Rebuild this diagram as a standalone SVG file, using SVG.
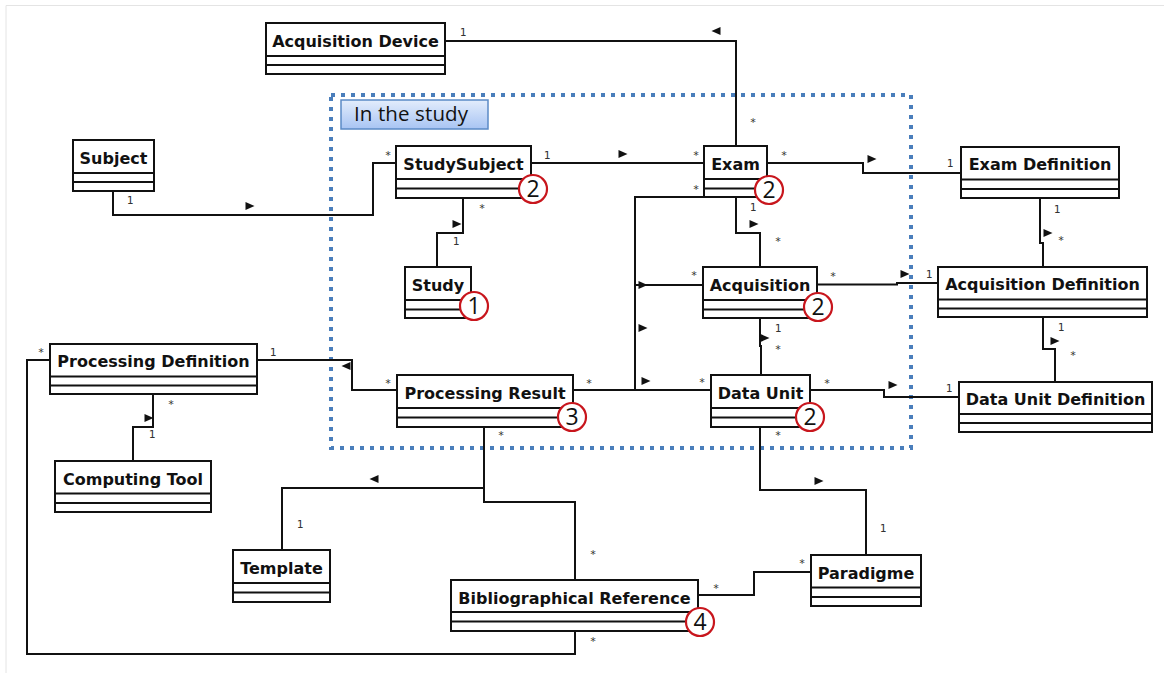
<svg xmlns="http://www.w3.org/2000/svg" width="1164" height="673" viewBox="0 0 1164 673">
<style>
.box{fill:#fff;stroke:#111;stroke-width:2}
.sep{stroke:#111;stroke-width:2}
.nm{font-family:"DejaVu Sans",Verdana,sans-serif;font-weight:bold;font-size:16px;fill:#111;text-anchor:middle}
.c{fill:none;stroke:#111;stroke-width:2}
.lb{font-family:"DejaVu Sans Mono","Liberation Mono",monospace;font-size:11px;fill:#333;text-anchor:middle}
.bd{fill:#fff;stroke:#c8161d;stroke-width:2.2}
.bn{font-family:"Open Sans","Noto Sans",sans-serif;font-size:23px;fill:#111;text-anchor:middle}
</style>
<defs>
<path id="ar" d="M-4.5,-4 L4.5,0 L-4.5,4 Z" fill="#111"/>
<linearGradient id="lg" x1="0" y1="0" x2="0" y2="1">
<stop offset="0" stop-color="#e3edfc"/>
<stop offset="1" stop-color="#a8c4f3"/>
</linearGradient>
</defs>
<rect width="1164" height="673" fill="#fff"/>
<path d="M6,673 V5.5 H1164" fill="none" stroke="#e4e4e4" stroke-width="1"/>

<g id="study-frame">
<rect x="331" y="95" width="580" height="353" fill="none" stroke="#4a7ebb" stroke-width="4" stroke-dasharray="4 6"/>
<rect x="341" y="100" width="147" height="29" fill="url(#lg)" stroke="#5b8ac6" stroke-width="1.5"/>
<text x="354" y="121" font-family="'Open Sans','Noto Sans',sans-serif" font-size="20.5" fill="#111" textLength="114">In the study</text>
</g>

<g id="connectors">
<path class="c" d="M445,41 H736 V146"/>
<path class="c" d="M113,192 V215 H373 V163 H396"/>
<path class="c" d="M531,163 H704"/>
<path class="c" d="M437,267 V233 H463 V198"/>
<path class="c" d="M767,163 H863 V173 H961"/>
<path class="c" d="M736,197 V233 H760 V267"/>
<path class="c" d="M704,197 H635 V390"/>
<path class="c" d="M635,285 H703"/>
<path class="c" d="M573,390 H711"/>
<path class="c" d="M817,284.5 H897 V283 H938"/>
<path class="c" d="M760,318 V346 H761 V375"/>
<path class="c" d="M810,390 H884 V397 H959"/>
<path class="c" d="M1040,198 V243 H1043 V267"/>
<path class="c" d="M1043,317 V349 H1055 V382"/>
<path class="c" d="M153,394 V427 H133 V461"/>
<path class="c" d="M50,360 H27 V654 H575 V631"/>
<path class="c" d="M257,360 H352 V390 H397"/>
<path class="c" d="M484,427 V502 H575 V580"/>
<path class="c" d="M484,488 H282 V550"/>
<path class="c" d="M760,427 V490 H866 V555"/>
<path class="c" d="M698,595 H754 V572 H811"/>

<use href="#ar" transform="translate(716,31) rotate(180)"/>
<use href="#ar" transform="translate(250,206)"/>
<use href="#ar" transform="translate(623,154)"/>
<use href="#ar" transform="translate(457,224)"/>
<use href="#ar" transform="translate(872,159)"/>
<use href="#ar" transform="translate(754,224)"/>
<use href="#ar" transform="translate(643,285)"/>
<use href="#ar" transform="translate(643,328)"/>
<use href="#ar" transform="translate(646,381)"/>
<use href="#ar" transform="translate(905,274)"/>
<use href="#ar" transform="translate(765,338)"/>
<use href="#ar" transform="translate(893,385)"/>
<use href="#ar" transform="translate(1048,233)"/>
<use href="#ar" transform="translate(1055,341)"/>
<use href="#ar" transform="translate(149,418)"/>
<use href="#ar" transform="translate(346,366) rotate(180)"/>
<use href="#ar" transform="translate(374,479) rotate(180)"/>
<use href="#ar" transform="translate(819,481)"/>

<text class="lb" x="463" y="36">1</text>
<text class="lb" x="753" y="126">*</text>
<text class="lb" x="130" y="204">1</text>
<text class="lb" x="388" y="159">*</text>
<text class="lb" x="547" y="159">1</text>
<text class="lb" x="696" y="159">*</text>
<text class="lb" x="456" y="245">1</text>
<text class="lb" x="482" y="212">*</text>
<text class="lb" x="784" y="159">*</text>
<text class="lb" x="950" y="167">1</text>
<text class="lb" x="753" y="211">1</text>
<text class="lb" x="778" y="245">*</text>
<text class="lb" x="696" y="193">*</text>
<text class="lb" x="694" y="279">*</text>
<text class="lb" x="702" y="386">*</text>
<text class="lb" x="589" y="387">*</text>
<text class="lb" x="833" y="280">*</text>
<text class="lb" x="929" y="278">1</text>
<text class="lb" x="778" y="332">1</text>
<text class="lb" x="778" y="353">*</text>
<text class="lb" x="827" y="387">*</text>
<text class="lb" x="949" y="392">1</text>
<text class="lb" x="1057" y="213">1</text>
<text class="lb" x="1061" y="244">*</text>
<text class="lb" x="1061" y="331">1</text>
<text class="lb" x="1073" y="359">*</text>
<text class="lb" x="171" y="408">*</text>
<text class="lb" x="152" y="438">1</text>
<text class="lb" x="41" y="356">*</text>
<text class="lb" x="593" y="645">*</text>
<text class="lb" x="273" y="356">1</text>
<text class="lb" x="388" y="387">*</text>
<text class="lb" x="501" y="439">*</text>
<text class="lb" x="300" y="528">1</text>
<text class="lb" x="593" y="558">*</text>
<text class="lb" x="778" y="439">*</text>
<text class="lb" x="883" y="532">1</text>
<text class="lb" x="716" y="592">*</text>
<text class="lb" x="802" y="567">*</text>
</g>

<g id="acquisition-device">
<rect class="box" x="266" y="23" width="179" height="51"/>
<path class="sep" d="M266,56 H445 M266,65 H445"/>
<text class="nm" x="355.5" y="46.5">Acquisition Device</text>
</g>
<g id="subject">
<rect class="box" x="73" y="140" width="81" height="51"/>
<path class="sep" d="M73,173 H154 M73,182 H154"/>
<text class="nm" x="113.5" y="163.5">Subject</text>
</g>
<g id="study-subject">
<rect class="box" x="396" y="146" width="135" height="52"/>
<path class="sep" d="M396,179 H531 M396,188.5 H531"/>
<text class="nm" x="463.5" y="169.5">StudySubject</text>
<circle class="bd" cx="533" cy="189" r="14"/>
<text class="bn" x="533" y="197">2</text>
</g>
<g id="study">
<rect class="box" x="405" y="267" width="66" height="51"/>
<path class="sep" d="M405,300 H471 M405,309.5 H471"/>
<text class="nm" x="438" y="290.5">Study</text>
<circle class="bd" cx="474" cy="306" r="14"/>
<text class="bn" x="474" y="314">1</text>
</g>
<g id="exam">
<rect class="box" x="704" y="146" width="63" height="51"/>
<path class="sep" d="M704,179 H767 M704,188.5 H767"/>
<text class="nm" x="735.5" y="169.5">Exam</text>
<circle class="bd" cx="769" cy="190" r="14"/>
<text class="bn" x="769" y="198">2</text>
</g>
<g id="acquisition">
<rect class="box" x="703" y="267" width="114" height="51"/>
<path class="sep" d="M703,300 H817 M703,309.5 H817"/>
<text class="nm" x="760" y="290.5">Acquisition</text>
<circle class="bd" cx="818" cy="307" r="14"/>
<text class="bn" x="818" y="315">2</text>
</g>
<g id="exam-definition">
<rect class="box" x="961" y="147" width="158" height="51"/>
<path class="sep" d="M961,179.5 H1119 M961,189 H1119"/>
<text class="nm" x="1040" y="170">Exam Definition</text>
</g>
<g id="acquisition-definition">
<rect class="box" x="938" y="267" width="209" height="50"/>
<path class="sep" d="M938,299.5 H1147 M938,308.5 H1147"/>
<text class="nm" x="1042.5" y="290">Acquisition Definition</text>
</g>
<g id="data-unit-definition">
<rect class="box" x="959" y="382" width="193" height="50"/>
<path class="sep" d="M959,414 H1152 M959,423 H1152"/>
<text class="nm" x="1055.5" y="405">Data Unit Definition</text>
</g>
<g id="processing-definition">
<rect class="box" x="50" y="344" width="207" height="50"/>
<path class="sep" d="M50,376.5 H257 M50,385.5 H257"/>
<text class="nm" x="153.5" y="367">Processing Definition</text>
</g>
<g id="computing-tool">
<rect class="box" x="55" y="461" width="156" height="51"/>
<path class="sep" d="M55,493.5 H211 M55,503 H211"/>
<text class="nm" x="133" y="484.5">Computing Tool</text>
</g>
<g id="processing-result">
<rect class="box" x="397" y="375" width="176" height="52"/>
<path class="sep" d="M397,408 H573 M397,417.5 H573"/>
<text class="nm" x="485" y="398.5">Processing Result</text>
<circle class="bd" cx="572" cy="417" r="14"/>
<text class="bn" x="572" y="425">3</text>
</g>
<g id="data-unit">
<rect class="box" x="711" y="375" width="99" height="52"/>
<path class="sep" d="M711,408 H810 M711,417.5 H810"/>
<text class="nm" x="760.5" y="398.5">Data Unit</text>
<circle class="bd" cx="810" cy="417" r="14"/>
<text class="bn" x="810" y="425">2</text>
</g>
<g id="template">
<rect class="box" x="233" y="550" width="97" height="52"/>
<path class="sep" d="M233,583 H330 M233,592.5 H330"/>
<text class="nm" x="281.5" y="573.5">Template</text>
</g>
<g id="bibliographical-reference">
<rect class="box" x="451" y="580" width="247" height="51"/>
<path class="sep" d="M451,612 H698 M451,621.5 H698"/>
<text class="nm" x="574.5" y="603.5">Bibliographical Reference</text>
<circle class="bd" cx="700" cy="622" r="14"/>
<text class="bn" x="700" y="630">4</text>
</g>
<g id="paradigme">
<rect class="box" x="811" y="555" width="110" height="51"/>
<path class="sep" d="M811,587.5 H921 M811,597 H921"/>
<text class="nm" x="866" y="578.5">Paradigme</text>
</g>
</svg>
